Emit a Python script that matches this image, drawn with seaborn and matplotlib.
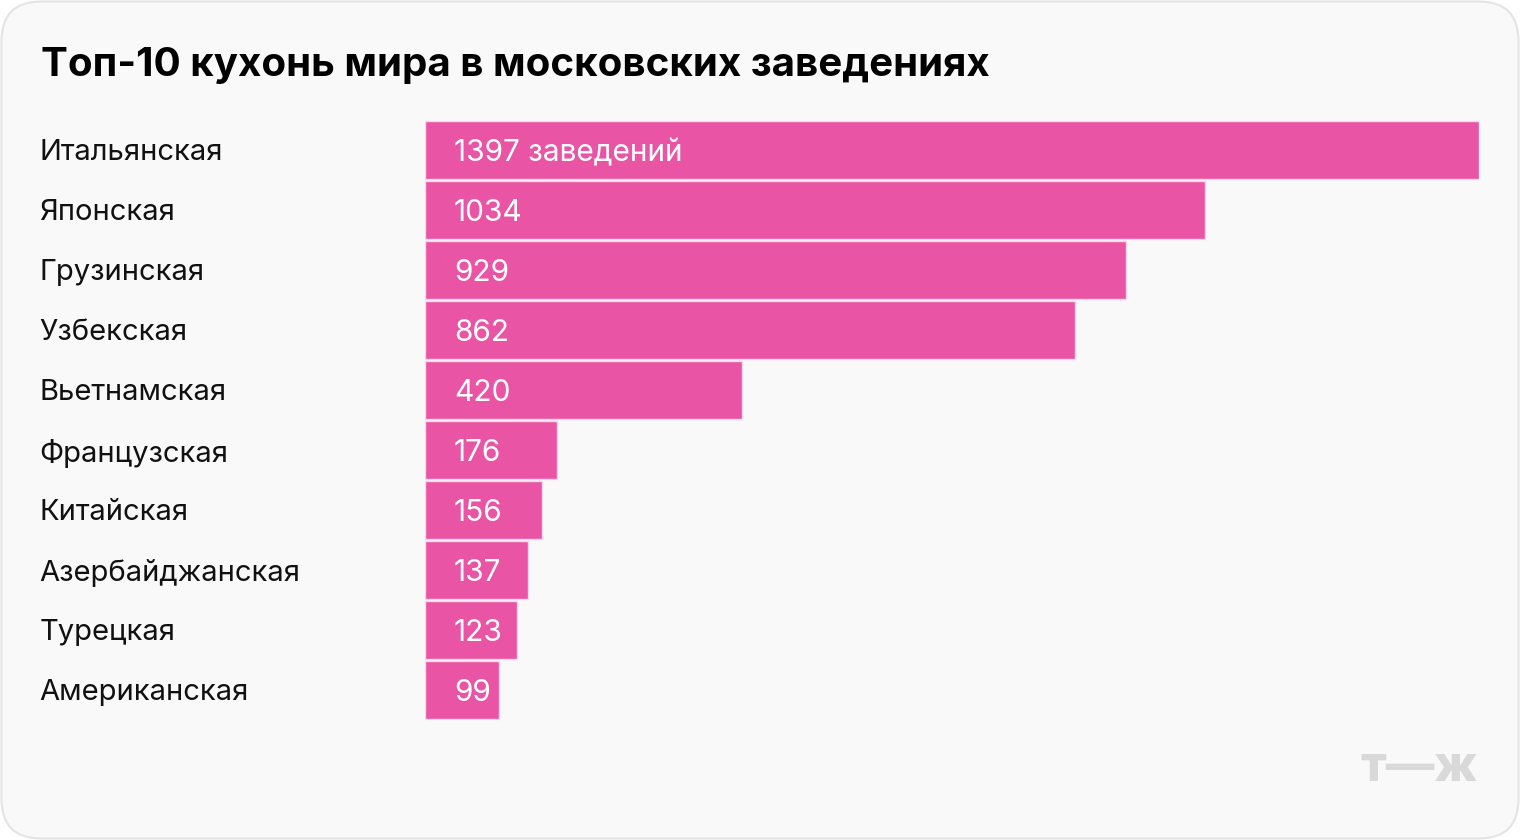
import matplotlib
matplotlib.use("Agg")
import matplotlib.pyplot as plt
import matplotlib.transforms as mtransforms
from matplotlib.patches import FancyBboxPatch
import seaborn as sns
import pandas as pd

cuisines = ["Итальянская", "Японская", "Грузинская", "Узбекская", "Вьетнамская",
            "Французская", "Китайская", "Азербайджанская", "Турецкая", "Американская"]
counts = [1397, 1034, 929, 862, 420, 176, 156, 137, 123, 99]
value_labels = ["1397 заведений", "1034", "929", "862", "420", "176", "156", "137", "123", "99"]
title = "Топ-10 кухонь мира в московских заведениях"

sns.set_theme(style="white")
plt.rcParams['font.family'] = ['Inter', 'DejaVu Sans']

W, H = 1520, 840
fig = plt.figure(figsize=(W / 100, H / 100), dpi=100)
fig.patch.set_facecolor("white")

card = FancyBboxPatch((1.5 / W, 1.5 / H), (W - 3) / W, (H - 3) / H,
                      boxstyle="round,pad=0,rounding_size=0.026",
                      transform=fig.transFigure, facecolor="#f9f9f9",
                      edgecolor="#e4e4e4", linewidth=1.5, mutation_aspect=W / H,
                      zorder=-10)
fig.patches.append(card)

ax = fig.add_axes([424.5 / W, (H - 720) / H, 1054.5 / W, 600 / H])
ax.set_zorder(1)
ax.set_facecolor("none")

df = pd.DataFrame({"cuisine": cuisines, "count": counts})
sns.barplot(data=df, x="count", y="cuisine", orient="h", color="#e954a5",
            saturation=1, width=0.97, edgecolor="#fbd7ea", linewidth=1, ax=ax)

ax.set_xlim(0, 1397)
ax.set_ylim(9.5, -0.5)
ax.set_xlabel("")
ax.set_ylabel("")
ax.set_xticks([])
ax.set_yticks([])
for s in ax.spines.values():
    s.set_visible(False)

blend = mtransforms.blended_transform_factory(fig.transFigure, ax.transData)
offset = mtransforms.ScaledTranslation(0, -3 / 100, fig.dpi_scale_trans)
for i, (c, v) in enumerate(zip(cuisines, value_labels)):
    ax.text(39.5 / W, i, c, transform=blend + offset, ha="left", va="center",
            fontsize=21, color="#111111", clip_on=False)
    ax.text(454 / W, i, v, transform=blend + offset, ha="left", va="center",
            fontsize=21.5, color="white", clip_on=False)

fig.text(41 / W, 1 - 66 / H, title, ha="left", va="center",
         fontsize=29, fontweight="bold", color="black")

fig.text(1419 / W, 1 - 768 / H, "т—ж", ha="center", va="center",
         fontsize=35, fontweight="heavy", color="#d9d9d9")

fig.savefig("out.png", dpi=100, facecolor="white")
